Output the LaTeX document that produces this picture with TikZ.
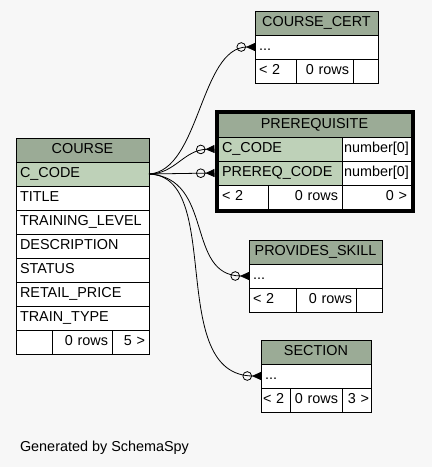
\documentclass[tikz,border=0pt]{standalone}
\usepackage{fontspec}
\setmainfont{Liberation Sans}
\usetikzlibrary{
    arrows.meta,
    positioning,
    fit
}
\definecolor{headgreen}{HTML}{9BAB96}
\definecolor{keygreen}{HTML}{BED1B8}
\definecolor{canvas}{HTML}{F7F7F7}
\tikzset{
    % --- Table cell (one column per row) ---
    cell/.style = {
        rectangle, draw, line width=0.8pt, fill=white,
        text width=#1, align=left,
        inner xsep=4pt, inner ysep=0pt, outer sep=0pt,
        minimum height=24pt,
        text height=10.5pt, text depth=3pt
    },
    % --- Table title row ---
    head/.style = {
        cell=#1, fill=headgreen, align=center
    },
    % --- Key column row ---
    key/.style = {
        cell=#1, fill=keygreen
    },
    % --- Column type (narrow padding) ---
    type/.style = {
        cell=#1, inner xsep=2pt
    },
    % --- Footer count, right aligned ---
    foot/.style = {
        cell=#1, align=right
    },
    % --- Narrow footer count ---
    narrow foot/.style = {
        foot=#1, inner xsep=2pt
    },
    % --- Thick frame of the focused table ---
    selected/.style = {
        rectangle, draw, line width=3pt, inner sep=2pt
    },
    % --- Relationship (zero or many) ---
    rel/.style = {
        line width=0.8pt,
        -{Circle[open, length=9.5pt, width=9.5pt, sep=0pt] Triangle[reversed, length=9pt, width=8pt]}
    }
}

\begin{document}
\begin{tikzpicture}[
    x=1pt, y=-1pt,
    font=\fontsize{14.4}{17}\selectfont
]

% canvas
\path[fill=canvas] (0,0) rectangle (432,467);
\useasboundingbox (0,0) rectangle (432,467);

% ---------------------------------------------------------
% COURSE table
% ---------------------------------------------------------
\node[head=125pt, anchor=north west] (course-head) at (16,138) {COURSE};
\node[key=125pt, below=0pt of course-head] (course-ccode) {C\_CODE};
\node[cell=125pt, below=0pt of course-ccode] (course-title) {TITLE};
\node[cell=125pt, below=0pt of course-title] (course-level) {TRAINING\_LEVEL};
\node[cell=125pt, below=0pt of course-level] (course-descr) {DESCRIPTION};
\node[cell=125pt, below=0pt of course-descr] (course-status) {STATUS};
\node[cell=125pt, below=0pt of course-status] (course-price) {RETAIL\_PRICE};
\node[cell=125pt, below=0pt of course-price] (course-ttype) {TRAIN\_TYPE};
\node[cell=28pt, anchor=north west] (course-f1) at (course-ttype.south west) {};
\node[foot=52pt, right=0pt of course-f1] (course-f2) {0 rows};
\node[foot=29pt, right=0pt of course-f2] (course-f3) {5 >};

% ---------------------------------------------------------
% PREREQUISITE table (focused)
% ---------------------------------------------------------
\node[head=185pt, anchor=north west] (prereq-head) at (218,113) {PREREQUISITE};
\node[key=116pt, anchor=north west] (prereq-ccode) at (prereq-head.south west) {C\_CODE};
\node[type=65pt, right=0pt of prereq-ccode] (prereq-ccode-type) {number[0]};
\node[key=116pt, below=0pt of prereq-ccode] (prereq-preq) {PREREQ\_CODE};
\node[type=65pt, right=0pt of prereq-preq] (prereq-preq-type) {number[0]};
\node[cell=42pt, anchor=north west] (prereq-f1) at (prereq-preq.south west) {< 2};
\node[foot=66pt, right=0pt of prereq-f1] (prereq-f2) {0 rows};
\node[foot=61pt, right=0pt of prereq-f2] (prereq-f3) {0 >};
\node[selected, fit=(prereq-head)(prereq-f1)(prereq-f3)] (prereq-box) {};

% ---------------------------------------------------------
% COURSE_CERT table
% ---------------------------------------------------------
\node[head=115pt, anchor=north west] (cert-head) at (255,11) {COURSE\_CERT};
\node[cell=115pt, below=0pt of cert-head] (cert-row) {...};
\node[cell=33pt, anchor=north west] (cert-f1) at (cert-row.south west) {< 2};
\node[foot=49pt, right=0pt of cert-f1] (cert-f2) {0 rows};
\node[foot=17pt, right=0pt of cert-f2] (cert-f3) {};

% ---------------------------------------------------------
% PROVIDES_SKILL table
% ---------------------------------------------------------
\node[head=125pt, anchor=north west] (skill-head) at (249,240) {PROVIDES\_SKILL};
\node[cell=125pt, below=0pt of skill-head] (skill-row) {...};
\node[cell=39pt, anchor=north west] (skill-f1) at (skill-row.south west) {< 2};
\node[foot=52pt, right=0pt of skill-f1] (skill-f2) {0 rows};
\node[foot=18pt, right=0pt of skill-f2] (skill-f3) {};

% ---------------------------------------------------------
% SECTION table
% ---------------------------------------------------------
\node[head=102pt, anchor=north west] (section-head) at (261,340) {SECTION};
\node[cell=102pt, below=0pt of section-head] (section-row) {...};
\node[type=25pt, anchor=north west] (section-f1) at (section-row.south west) {<~2};
\node[foot=44pt, right=0pt of section-f1] (section-f2) {0 rows};
\node[narrow foot=25pt, right=0pt of section-f2] (section-f3) {3~>};

% ---------------------------------------------------------
% Relationships from COURSE.C_CODE
% ---------------------------------------------------------
\draw[rel] (course-ccode.east) .. controls +(51,-3) and +(-55,0) .. (cert-row.west);
\draw[rel] (course-ccode.east) .. controls +(26,0) and +(-31,1) .. (prereq-ccode.west -| prereq-box.west);
\draw[rel] (course-ccode.east) -- (prereq-preq.west -| prereq-box.west);
\draw[rel] (course-ccode.east) .. controls +(66,4) and +(-64,0) .. (skill-row.west);
\draw[rel] (course-ccode.east) .. controls +(76,2) and +(-96,0) .. (section-row.west);

% credit line
\node[anchor=base west] (credit) at (16.5,451.5) {Generated by SchemaSpy};

\end{tikzpicture}
\end{document}
